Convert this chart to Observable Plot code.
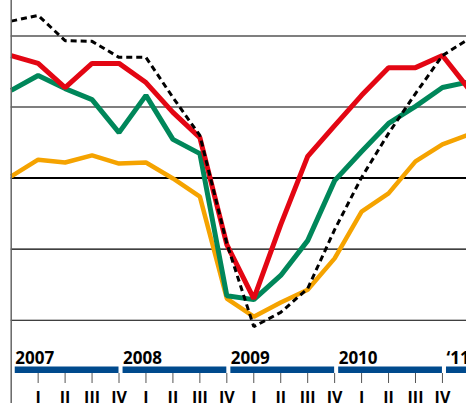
<!DOCTYPE html>
<html>
<head>
<meta charset="utf-8">
<script src="https://cdn.jsdelivr.net/npm/d3@7"></script>
<script src="https://cdn.jsdelivr.net/npm/@observablehq/plot@0.6"></script>
<style>
html, body { margin: 0; padding: 0; background: #fff; overflow: hidden; }
#chart svg { display: block; overflow: hidden; }
#chart svg text { font-family: "Open Sans", sans-serif; font-weight: 700; }
</style>
</head>
<body>
<div id="chart"></div>
<script>
// Quarters from 2006 Q4 (index 0) to 2011 Q1 (index 17)
const periods = ["2006-IV","2007-I","2007-II","2007-III","2007-IV","2008-I","2008-II","2008-III","2008-IV",
                 "2009-I","2009-II","2009-III","2009-IV","2010-I","2010-II","2010-III","2010-IV","2011-I"];

const seriesRed    = [34.5, 32.3, 25.5, 32.3, 32.3, 26.9, 18.5, 11.4, -18.7, -33.9, -13.1, 6.1, 14.8, 23.3, 31.1, 31.1, 34.5, 24.9];
const seriesGreen  = [24.7, 28.9, 25.2, 22.1, 12.8, 23.3, 10.9, 6.9, -33.1, -34.2, -27.4, -17.6, -0.7, 7.5, 15.4, 20.2, 25.5, 27.1];
const seriesOrange = [0.5, 5.2, 4.4, 6.4, 4.1, 4.4, -0.1, -5.2, -33.9, -39.0, -35.0, -31.4, -22.6, -9.4, -4.3, 4.7, 9.5, 12.3];
const seriesDotted = [44.2, 45.8, 38.7, 38.5, 34.0, 34.0, 22.7, 12.0, -18.4, -41.8, -37.8, -31.1, -14.5, 0.2, 12.6, 23.8, 34.5, 39.3];

const gridValues = [40, 20, -20, -40];
const zeroValue = [0];

const quarterTicks = [1,2,3,4,5,6,7,8,9,10,11,12,13,14,15,16];
const quarterLabels = ["I", "II", "III", "IV"];

const yearLabels = ["2007", "2008", "2009", "2010", "\u201811"];
const yearFirstQuarter = [1, 5, 9, 13, 17];
const yearLastQuarter = [4, 8, 12, 16, 20];

const rows = periods.map((p, i) => ({
  period: p, i,
  red: seriesRed[i], green: seriesGreen[i], orange: seriesOrange[i], dotted: seriesDotted[i]
}));
const years = yearLabels.map((label, k) => ({label, first: yearFirstQuarter[k], last: yearLastQuarter[k]}));

const yDomain = [-55, 50];
const yearGap = 0.85;
const lineStyle = {strokeLinejoin: "miter", strokeLinecap: "butt", clip: true};

const chart = Plot.plot({
  width: 466,
  height: 407,
  marginTop: 0,
  marginLeft: 0,
  marginRight: 0,
  marginBottom: 34,
  x: {domain: [0, 17], range: [10.7, 468.9], axis: null},
  y: {domain: yDomain, axis: null},
  style: {background: "white", fontFamily: "'Open Sans', sans-serif"},
  marks: [
    Plot.ruleY(gridValues, {x1: 0, x2: 17, stroke: "#000", strokeWidth: 1.1, clip: true}),
    Plot.ruleY(zeroValue, {x1: 0, x2: 17, stroke: "#000", strokeWidth: 2, clip: true}),
    Plot.line(rows, {x: "i", y: "orange", stroke: "#f5a300", strokeWidth: 4.5, ...lineStyle}),
    Plot.line(rows, {x: "i", y: "green", stroke: "#00875a", strokeWidth: 5, ...lineStyle}),
    Plot.line(rows, {x: "i", y: "red", stroke: "#e30613", strokeWidth: 5, ...lineStyle}),
    Plot.line(rows, {x: "i", y: "dotted", stroke: "#000", strokeWidth: 3, strokeDasharray: "6,4", ...lineStyle}),
    Plot.ruleX([0], {stroke: "#666", strokeWidth: 1.5, insetBottom: -30}),
    Plot.ruleY(years, {x1: d => d.first - yearGap, x2: "last", y: yDomain[0], dy: -3.5,
                       stroke: "#004a8d", strokeWidth: 7, clip: true}),
    Plot.text(years, {x: d => d.first - yearGap, y: yDomain[0], text: "label", textAnchor: "start",
                      lineAnchor: "bottom", dy: -10, fontSize: 17, fontWeight: "bold", fill: "#000"}),
    Plot.axisX(quarterTicks, {
      anchor: "bottom",
      tickFormat: d => quarterLabels[(d - 1) % 4],
      tickSize: 10, tickPadding: 8, fontSize: 16, fontWeight: "bold",
      stroke: "#555", strokeWidth: 1, fill: "#000", textStroke: "none"
    })
  ]
});
document.getElementById("chart").appendChild(chart);
</script>
</body>
</html>
